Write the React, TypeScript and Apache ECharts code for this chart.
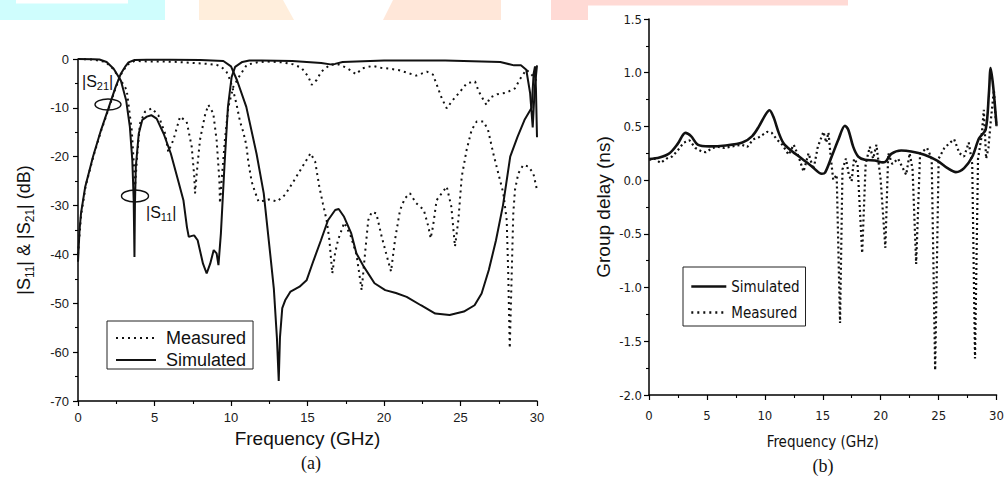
import React, { useEffect, useRef } from 'react';
import * as echarts from 'echarts';

// ---------- Data: plot (a) |S11| & |S21| (dB) ----------
const simS21Freq = [0, 0.1, 0.2, 0.47, 0.98, 1.5, 2.0, 2.45, 2.8, 3.1, 3.3, 3.7, 4.5, 6, 8, 9.5, 10.0, 10.4, 11.0, 11.67, 12.14, 12.6, 12.8, 13.0, 13.12, 13.2, 13.35, 13.54, 13.89, 14.48, 14.94, 15.4, 15.88, 16.34, 16.81, 17.04, 17.39, 17.86, 18.2, 18.68, 19.38, 20.08, 20.78, 21.48, 22.41, 23.35, 24.29, 25.22, 25.92, 26.38, 26.85, 27.32, 27.78, 28.25, 28.72, 29.18, 29.65, 29.78, 29.87, 29.93, 30];
const simS21Vals = [-41.5, -35, -31.5, -26.2, -20, -14.6, -10, -5.8, -3, -1.5, -0.7, -0.2, -0.15, -0.15, -0.2, -0.4, -1.5, -4.4, -9.8, -19.4, -27.5, -41, -47, -57, -65.9, -57, -51, -49.4, -47.6, -46.6, -45.3, -41.2, -37.1, -33, -30.9, -30.7, -32.3, -35.7, -39.8, -42.5, -45.9, -47.3, -47.9, -48.7, -50.4, -52.1, -52.4, -51.7, -50.4, -48, -43.2, -37.1, -29.9, -20, -16, -12.5, -10, -3, -1.5, -6, -16];

const simS11Freq = [0, 1.0, 1.4, 1.87, 2.33, 2.8, 3.15, 3.39, 3.55, 3.64, 3.69, 3.72, 3.78, 3.97, 4.2, 4.5, 4.79, 5.14, 5.6, 6.07, 6.54, 6.89, 7.12, 7.24, 7.45, 7.59, 7.82, 8.17, 8.41, 8.64, 8.87, 9.06, 9.18, 9.34, 9.57, 9.8, 10.04, 10.27, 10.74, 11.2, 12, 14, 15.9, 16.5, 16.8, 17.3, 20, 24, 27.6, 28.5, 28.95, 29.3, 29.55, 29.72, 29.85, 30];
const simS11Vals = [0, -0.05, -0.1, -0.6, -2, -4.4, -8.5, -13.9, -20.7, -28.9, -40.5, -30, -22, -15.3, -12.5, -11.8, -11.5, -12.2, -15.3, -19.4, -24.8, -28.9, -34.4, -36.4, -36.2, -36.1, -37.1, -41.9, -43.9, -41.9, -39.1, -39.8, -42.2, -35.7, -22, -9.8, -3.7, -1.6, -0.6, -0.3, -0.3, -0.4, -0.8, -1.1, -1.0, -0.6, -0.3, -0.3, -0.6, -1.3, -1.3, -2.2, -7, -14, -6, -1.3];

const measS21Freq = [0, 0.2, 0.5, 1.0, 1.5, 2.0, 2.45, 2.8, 3.2, 3.7, 4.5, 5.5, 6.5, 7.5, 8.5, 9.06, 9.4, 9.7, 9.93, 10.15, 10.37, 10.59, 10.8, 11.0, 11.13, 11.35, 11.57, 11.8, 12.2, 12.55, 13.0, 13.53, 14.0, 14.6, 15.2, 15.5, 15.77, 16.0, 16.25, 16.43, 16.62, 16.8, 17.0, 17.4, 17.8, 18.2, 18.54, 18.76, 18.97, 19.2, 19.5, 19.85, 20.2, 20.46, 20.72, 21.05, 21.37, 21.7, 22.1, 22.6, 22.9, 23.05, 23.2, 23.44, 23.77, 24.1, 24.4, 24.64, 24.86, 25.08, 25.4, 25.73, 26.06, 26.5, 26.8, 27.14, 27.47, 27.8, 28.02, 28.12, 28.22, 28.45, 28.56, 28.78, 29.1, 29.43, 29.76, 30];
const measS21Vals = [-40, -32, -26, -20, -14.8, -10.2, -6, -3.2, -1.2, -0.4, -0.5, -0.5, -0.6, -0.8, -1, -1.2, -1.7, -2.6, -4.2, -6.5, -9.4, -12.8, -14.9, -17.6, -21, -25.1, -27.2, -29.2, -29, -28.7, -29.2, -27.8, -25.5, -22.4, -19.3, -21, -26.1, -29.5, -33, -37, -43.9, -39.8, -37, -33.5, -36, -40, -47.3, -39.8, -33, -31.3, -31.6, -36.4, -40.5, -43.5, -37, -30.9, -28.5, -27.5, -29.5, -30.9, -34.3, -36.7, -34.3, -28.9, -27.5, -26.1, -30.2, -38.4, -33, -24.1, -18.6, -14.5, -12.8, -12.8, -14.5, -19.3, -23.4, -27.5, -33, -43.9, -59.2, -31.6, -26.8, -23.4, -21.7, -22, -23.4, -26.8];

const measS11Freq = [0, 1.0, 1.8, 2.3, 2.8, 3.18, 3.51, 3.66, 3.73, 3.88, 4.05, 4.38, 4.82, 5.25, 5.69, 5.9, 6.23, 6.67, 7.1, 7.43, 7.6, 7.65, 7.76, 7.97, 8.3, 8.52, 8.84, 9.06, 9.24, 9.28, 9.39, 9.6, 9.83, 10.15, 10.59, 11.03, 11.68, 12.3, 13.4, 14.07, 14.6, 15.05, 15.27, 15.6, 15.9, 16.47, 17.0, 17.56, 18.17, 18.6, 19.27, 19.8, 20.4, 21.0, 21.6, 22.1, 22.8, 23.2, 23.5, 23.77, 24.1, 24.5, 24.97, 25.4, 25.95, 26.2, 26.5, 26.7, 26.93, 27.4, 28.0, 28.56, 28.89, 29.3, 29.6, 30];
const measS11Vals = [0, -0.1, -0.6, -2, -4.4, -6.3, -14.5, -22, -26, -19.3, -13.2, -10.8, -10.1, -11.5, -15.2, -19, -16.6, -11.8, -12.8, -17.9, -24.1, -27.5, -23.4, -16.6, -11.5, -9.4, -11.1, -16.6, -24.8, -29.5, -24.8, -16.6, -9.8, -5.7, -3.3, -1.2, -0.7, -0.5, -0.7, -1.1, -1.8, -3.6, -5.3, -4.3, -2.6, -1.2, -1.1, -1.8, -3.1, -1.9, -1.4, -1.8, -2, -2.3, -2.9, -3.4, -2.6, -3.2, -5.7, -8, -10.1, -8.4, -6.7, -5, -4.6, -6.7, -8.4, -9.4, -7.9, -7.2, -6.9, -6, -4.1, -2.2, -3, -4.6];

// ---------- Data: plot (b) Group delay (ns) ----------
const simGDFreq = [0, 0.91, 1.77, 2.49, 3.14, 3.63, 4.2, 5.2, 6.63, 8.06, 8.91, 9.49, 10.06, 10.4, 10.77, 11.2, 11.63, 12.34, 13.2, 14.06, 14.91, 15.2, 15.77, 16.34, 16.91, 17.2, 17.63, 18.06, 18.63, 19.49, 20.2, 20.49, 20.91, 21.77, 22.63, 23.77, 24.91, 25.77, 26.49, 27.2, 27.91, 28.49, 29.06, 29.34, 29.49, 29.71, 30];
const simGDVals = [0.196, 0.21, 0.25, 0.34, 0.44, 0.41, 0.33, 0.314, 0.323, 0.35, 0.41, 0.5, 0.61, 0.65, 0.58, 0.44, 0.34, 0.27, 0.2, 0.127, 0.059, 0.07, 0.22, 0.376, 0.506, 0.47, 0.31, 0.22, 0.19, 0.183, 0.165, 0.18, 0.245, 0.276, 0.267, 0.236, 0.18, 0.112, 0.075, 0.112, 0.22, 0.39, 0.47, 0.81, 1.043, 0.87, 0.506];

const measGDFreq = [0, 0.5, 1.0, 1.5, 2.0, 2.5, 3.0, 3.5, 4.0, 4.5, 4.9, 5.5, 6.0, 6.5, 7.0, 7.5, 8.0, 8.49, 9.0, 9.5, 10.2, 10.6, 11.06, 11.5, 12.06, 12.49, 12.91, 13.34, 13.77, 14.2, 14.57, 15.06, 15.3, 15.49, 15.7, 15.9, 16.2, 16.49, 16.7, 17.0, 17.25, 17.49, 17.7, 18.0, 18.4, 18.7, 19.06, 19.35, 19.63, 20.0, 20.4, 20.65, 21.0, 21.5, 22.2, 22.5, 22.75, 23.06, 23.4, 24.0, 24.4, 24.7, 25.0, 25.5, 26.0, 26.34, 26.8, 27.2, 27.6, 27.9, 28.14, 28.4, 28.7, 28.9, 29.1, 29.3, 29.5, 29.77, 29.9, 30];
const measGDVals = [0.19, 0.2, 0.16, 0.2, 0.22, 0.28, 0.35, 0.37, 0.3, 0.27, 0.26, 0.3, 0.31, 0.3, 0.31, 0.32, 0.33, 0.31, 0.38, 0.4, 0.45, 0.44, 0.376, 0.33, 0.236, 0.33, 0.22, 0.08, 0.25, 0.1, 0.31, 0.45, 0.35, 0.444, 0.2, 0.003, 0.05, -1.33, 0.1, 0.2, 0.05, -0.01, 0.2, 0.15, -0.68, 0.15, 0.31, 0.2, 0.33, 0.0, -0.63, 0.25, 0.15, 0.2, 0.05, 0.25, 0.1, -0.78, 0.25, 0.3, 0.2, -1.77, 0.2, 0.3, 0.35, 0.38, 0.25, 0.22, 0.35, 0.15, -1.66, 0.2, 0.4, 0.655, 0.2, 0.3, 0.55, 0.84, 0.6, 0.5];

const legendA = ['Measured', 'Simulated'];
const legendB = ['Simulated', 'Measured'];

const SANS = '"Liberation Sans", Arial, sans-serif';
const NARROW = '"Liberation Sans Narrow", "DejaVu Sans Condensed", "Liberation Sans", Arial, sans-serif';
const SERIF = '"Liberation Serif", "Times New Roman", serif';

const pairs = (f: number[], v: number[]) => f.map((x, i) => [x, v[i]]);

const dotted = { color: '#111', width: 2, type: [2, 4] as number[], cap: 'butt' };

function axisCommon(font: string, size: number) {
  return {
    axisLine: { onZero: false, lineStyle: { color: '#000', width: 1.5 } },
    axisTick: { length: 5, lineStyle: { color: '#000', width: 1.2 } },
    minorTick: { show: true, splitNumber: 2, length: 3, lineStyle: { color: '#000', width: 1.1 } },
    splitLine: { show: false },
    minorSplitLine: { show: false },
    axisLabel: { fontFamily: font, fontSize: size, color: '#1a1a1a' },
  };
}

export default function App() {
  const ref = useRef<HTMLDivElement>(null);
  useEffect(() => {
    if (!ref.current) return;
    const chart = echarts.init(ref.current, undefined, { renderer: 'svg' });
    const cA = axisCommon(SANS, 13);
    const cB = axisCommon(NARROW, 13);
    const option: any = {
      animation: false,
      backgroundColor: '#ffffff',
      textStyle: { fontFamily: SANS },
      grid: [
        { left: 78, top: 59, width: 459, height: 342 },
        { left: 649, top: 19, width: 350, height: 376 },
      ],
      xAxis: [
        {
          ...cA, gridIndex: 0, type: 'value', min: 0, max: 30, interval: 5,
          axisLabel: { ...cA.axisLabel, margin: 10 },
          name: 'Frequency (GHz)', nameLocation: 'middle', nameGap: 28,
          nameTextStyle: { fontFamily: SANS, fontSize: 19, color: '#111' },
        },
        {
          ...cB, gridIndex: 1, type: 'value', min: 0, max: 30, interval: 5,
          axisLabel: { ...cB.axisLabel, margin: 14 },
          name: 'Frequency (GHz)', nameLocation: 'middle', nameGap: 39,
          nameTextStyle: { fontFamily: NARROW, fontSize: 15, color: '#111' },
        },
      ],
      yAxis: [
        {
          ...cA, gridIndex: 0, type: 'value', min: -70, max: 0, interval: 10,
          axisLabel: { ...cA.axisLabel, margin: 9 },
          name: '{m||S}{s|11}{m|| & |S}{s|21}{m|| (dB)}', nameLocation: 'middle', nameGap: 42, nameRotate: 90,
          nameTextStyle: {
            fontFamily: SANS, fontSize: 18, color: '#111',
            rich: {
              m: { fontFamily: SANS, fontSize: 18, color: '#111' },
              s: { fontFamily: SANS, fontSize: 12, color: '#111', padding: [12, 0, 0, 0] },
            },
          },
        },
        {
          ...cB, gridIndex: 1, type: 'value', min: -2, max: 1.5, interval: 0.5,
          axisLabel: { ...cB.axisLabel, margin: 7, formatter: (v: number) => v.toFixed(1) },
          name: 'Group delay (ns)', nameLocation: 'middle', nameGap: 36, nameRotate: 90,
          nameTextStyle: { fontFamily: SANS, fontSize: 19, color: '#111' },
        },
      ],
      legend: [
        {
          left: 107, top: 321, orient: 'vertical', data: legendA,
          itemWidth: 40, itemHeight: 14, itemGap: 4, padding: [8, 7, 0, 8],
          borderColor: '#222', borderWidth: 1, backgroundColor: '#fff',
          itemStyle: { opacity: 0 },
          textStyle: { fontFamily: SANS, fontSize: 18, color: '#111', padding: [0, 0, 0, 5] },
          selectedMode: false,
        },
        {
          left: 683, top: 267, orient: 'vertical', data: legendB,
          itemWidth: 35, itemHeight: 14, itemGap: 11, padding: [12, 6, 6, 7],
          borderColor: '#222', borderWidth: 1, backgroundColor: '#fff',
          itemStyle: { opacity: 0 },
          lineStyle: { width: 2.6 },
          textStyle: { fontFamily: NARROW, fontSize: 15, color: '#111' },
          selectedMode: false,
        },
      ],
      series: [
        { name: 'Measured', type: 'line', xAxisIndex: 0, yAxisIndex: 0, data: pairs(measS21Freq, measS21Vals), symbol: 'none', showSymbol: false, lineStyle: dotted, itemStyle: { color: '#111' }, z: 2 },
        { name: 'Simulated', type: 'line', xAxisIndex: 0, yAxisIndex: 0, data: pairs(simS21Freq, simS21Vals), symbol: 'none', showSymbol: false, lineStyle: { color: '#111', width: 2 }, itemStyle: { color: '#111' }, z: 3 },
        { name: 'Measured', type: 'line', xAxisIndex: 0, yAxisIndex: 0, data: pairs(measS11Freq, measS11Vals), symbol: 'none', showSymbol: false, lineStyle: dotted, itemStyle: { color: '#111' }, z: 2 },
        { name: 'Simulated', type: 'line', xAxisIndex: 0, yAxisIndex: 0, data: pairs(simS11Freq, simS11Vals), symbol: 'none', showSymbol: false, lineStyle: { color: '#111', width: 2 }, itemStyle: { color: '#111' }, z: 3 },
        { name: 'Simulated', type: 'line', xAxisIndex: 1, yAxisIndex: 1, data: pairs(simGDFreq, simGDVals), symbol: 'none', showSymbol: false, smooth: 0.3, lineStyle: { color: '#111', width: 2.6 }, itemStyle: { color: '#111' }, z: 3 },
        { name: 'Measured', type: 'line', xAxisIndex: 1, yAxisIndex: 1, data: pairs(measGDFreq, measGDVals), symbol: 'none', showSymbol: false, lineStyle: { ...dotted, width: 2.2, type: [2, 3] }, itemStyle: { color: '#111' }, z: 2 },
      ],
      graphic: [
        { type: 'rect', shape: { x: 0, y: 0, width: 165, height: 20 }, style: { fill: '#CFFDFD' }, silent: true },
        { type: 'rect', shape: { x: 16, y: 0, width: 112, height: 3.5 }, style: { fill: '#ffffff' }, silent: true },
        { type: 'polygon', shape: { points: [[199, 0], [283, 0], [294, 20], [199, 20]] }, style: { fill: '#FFEEDC' }, silent: true },
        { type: 'polygon', shape: { points: [[393, 0], [501, 0], [501, 20], [383, 20]] }, style: { fill: '#FFE7D9' }, silent: true },
        { type: 'polygon', shape: { points: [[551, 0], [848, 0], [848, 5.5], [588, 5.5], [588, 20], [551, 20]] }, style: { fill: '#FFDAD5' }, silent: true },
        {
          type: 'text', left: 82, top: 73,
          style: {
            text: '{m||S}{s|21}{m||}', fill: '#111',
            rich: { m: { fontFamily: SANS, fontSize: 16, fill: '#111' }, s: { fontFamily: SANS, fontSize: 11, fill: '#111', padding: [10, 0, 0, 0] } },
          },
        },
        { type: 'ellipse', shape: { cx: 108, cy: 104.5, rx: 13, ry: 5.5 }, style: { fill: 'none', stroke: '#111', lineWidth: 1.4 } },
        {
          type: 'text', left: 146, top: 204,
          style: {
            text: '{m||S}{s|11}{m||}', fill: '#111',
            rich: { m: { fontFamily: SANS, fontSize: 16, fill: '#111' }, s: { fontFamily: SANS, fontSize: 11, fill: '#111', padding: [10, 0, 0, 0] } },
          },
        },
        { type: 'ellipse', shape: { cx: 135, cy: 196, rx: 13.5, ry: 6 }, style: { fill: 'none', stroke: '#111', lineWidth: 1.4 } },
        { type: 'text', x: 311, y: 463, style: { text: '(a)', fontFamily: SERIF, fontSize: 18, fill: '#111', textAlign: 'center', textVerticalAlign: 'middle' } },
        { type: 'text', x: 823, y: 466, style: { text: '(b)', fontFamily: SERIF, fontSize: 18, fill: '#111', textAlign: 'center', textVerticalAlign: 'middle' } },
      ],
    };
    chart.setOption(option);
    return () => chart.dispose();
  }, []);
  return <div ref={ref} style={{ position: 'fixed', left: 0, top: 0, width: 1007, height: 481 }} />;
}
